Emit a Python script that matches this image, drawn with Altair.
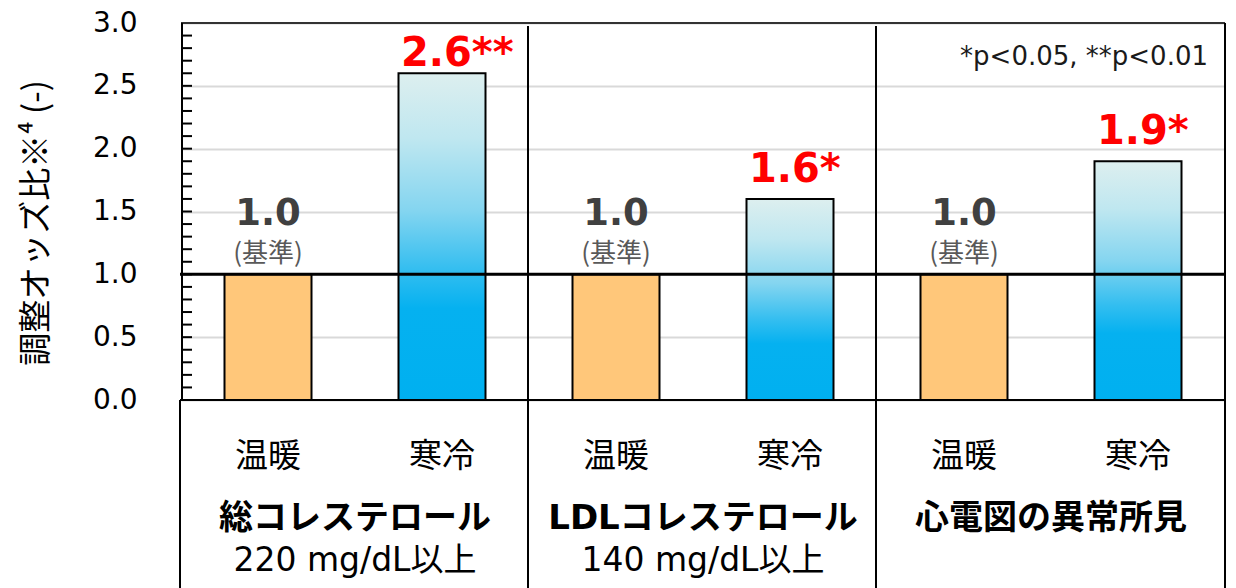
import altair as alt
import pandas as pd

# ---- values ----
groups = ["総コレステロール", "LDLコレステロール", "心電図の異常所見"]
group_notes = ["220 mg/dL以上", "140 mg/dL以上", ""]
conditions = ["温暖", "寒冷"]
odds_ratio = [1.0, 2.6, 1.0, 1.6, 1.0, 1.9]
value_labels = ["1.0", "2.6**", "1.0", "1.6*", "1.0", "1.9*"]
y_ticks = [0.0, 0.5, 1.0, 1.5, 2.0, 2.5, 3.0]
minor_ticks = [round(i * 0.1, 1) for i in range(31)]
reference_note = "(基準)"
significance_note = "*p<0.05, **p<0.01"
y_title = "調整オッズ比※⁴ (-)"

rows = []
for gi, g in enumerate(groups):
    for ci, c in enumerate(conditions):
        k = gi * 2 + ci
        rows.append({"key": f"{g}:{c}", "group": g, "note": group_notes[gi],
                     "cond": c, "odds": odds_ratio[k], "label": value_labels[k]})
bars = pd.DataFrame(rows)
keys = list(bars["key"])
one = pd.DataFrame({"v": [1.0]})
ticks_df = pd.DataFrame({"t": minor_ticks})

# ---- layout ----
W, H = 1044, 565          # whole framed area (plot + category table)
PLOT_H = 377              # plot part: 0.0 .. 3.0
PANEL_W = W / len(groups)

JP = "Noto Sans CJK JP"
LAT = "DejaVu Sans, Noto Sans CJK JP"

yscale = alt.Scale(domain=[0, 3], range=[PLOT_H, 0], nice=False, zero=True)
xscale = alt.Scale(domain=keys, paddingInner=0.5, paddingOuter=0.25)
xenc = alt.X("key:N", scale=xscale, axis=None)

yaxis = alt.Axis(values=y_ticks, format=".1f", title=None, domain=False,
                 ticks=False, tickSize=0, labelPadding=44,
                 labelFont="DejaVu Sans", labelFontSize=28, labelColor="black",
                 grid=True, gridColor="#D9D9D9", gridWidth=2, labelFlush=False)


def yenc(field):
    return alt.Y(field, scale=yscale, axis=yaxis)


base = alt.Chart(bars)
warm = base.transform_filter(alt.datum.cond == "温暖")
cold = base.transform_filter(alt.datum.cond == "寒冷")

warm_bars = warm.mark_bar(fill="#FFC77A", stroke="black", strokeWidth=2).encode(
    x=xenc, y=yenc("odds:Q"))

cold_fill = alt.Gradient(
    gradient="linear", x1=0, x2=0, y1=0, y2=1,
    stops=[alt.GradientStop(color="#DDEFEF", offset=0),
           alt.GradientStop(color="#BFE7F0", offset=0.2),
           alt.GradientStop(color="#84D5F0", offset=0.42),
           alt.GradientStop(color="#34BEF0", offset=0.6),
           alt.GradientStop(color="#05B1F0", offset=0.72),
           alt.GradientStop(color="#00B0F0", offset=1)])
cold_bars = cold.mark_bar(fill=cold_fill, stroke="black", strokeWidth=2).encode(
    x=xenc, y=yenc("odds:Q"))

minor = alt.Chart(ticks_df).mark_rule(color="black", strokeWidth=2).encode(
    y=yenc("t:Q"), x=alt.value(1), x2=alt.value(11))

base_line = alt.Chart(one).mark_rule(color="black", strokeWidth=3).encode(
    y=yenc("v:Q"), x=alt.value(-1), x2=alt.value(W))


def hline(y, x0, x1, w=2, color="black"):
    return alt.Chart(one).mark_rule(color=color, strokeWidth=w).encode(
        y=alt.value(y), x=alt.value(x0), x2=alt.value(x1))


def vline(x, y0, y1, w=2, color="black"):
    return alt.Chart(one).mark_rule(color=color, strokeWidth=w).encode(
        x=alt.value(x), y=alt.value(y0), y2=alt.value(y1))


frame = [
    hline(0, 0, W, 2, "#333333"),
    hline(PLOT_H, -1, W),
    vline(1, 0, PLOT_H),
    vline(-1, PLOT_H, H),
    vline(W, 0, H),
    vline(PANEL_W - 1, 3, H),
    vline(2 * PANEL_W - 1, 3, H),
]

ref_value = warm.mark_text(font="DejaVu Sans", fontWeight="bold", fontSize=37,
                           color="#404040", baseline="alphabetic", dy=-49).encode(
    x=xenc, y=yenc("odds:Q"), text="label:N")
ref_note = warm.mark_text(font=JP, fontSize=26, color="#595959",
                          baseline="middle", dy=-20).encode(
    x=xenc, y=yenc("odds:Q"), text=alt.value(reference_note))

red_low = cold.transform_filter(alt.datum.odds < 2.5).mark_text(
    font="DejaVu Sans", fontWeight="bold", fontSize=40, color="#FF0000",
    align="left", baseline="alphabetic", dx=-41, dy=-17).encode(
    x=xenc, y=yenc("odds:Q"), text="label:N")
red_high = cold.transform_filter(alt.datum.odds >= 2.5).mark_text(
    font="DejaVu Sans", fontWeight="bold", fontSize=40, color="#FF0000",
    align="left", baseline="alphabetic", dx=-41, dy=-7).encode(
    x=xenc, y=yenc("odds:Q"), text="label:N")

cond_text = base.mark_text(font=JP, fontSize=33, color="black",
                           baseline="middle").encode(
    x=xenc, y=alt.value(434), text="cond:N")

# group captions are centred between each panel's two bars
half_gap = PANEL_W / 8
group_text = warm.mark_text(font=LAT, fontWeight="bold", fontSize=34,
                            color="black", baseline="middle",
                            dx=half_gap).encode(
    x=alt.X("key:N", scale=xscale, axis=None, bandPosition=1),
    y=alt.value(496), text="group:N")
note_text = warm.mark_text(font=LAT, fontSize=33, color="black",
                           baseline="middle", dx=half_gap).encode(
    x=alt.X("key:N", scale=xscale, axis=None, bandPosition=1),
    y=alt.value(538), text="note:N")

sig_text = alt.Chart(one).mark_text(font="DejaVu Sans", fontSize=26,
                                    color="#1A1A1A", align="right",
                                    baseline="alphabetic").encode(
    x=alt.value(1027), y=alt.value(42), text=alt.value(significance_note))

title_text = alt.Chart(one).mark_text(font=JP, fontSize=33, color="black",
                                      angle=270, align="center",
                                      baseline="middle").encode(
    x=alt.value(-144), y=alt.value(200), text=alt.value(y_title))

chart = alt.layer(
    warm_bars, cold_bars, minor, base_line, *frame,
    ref_value, ref_note, red_low, red_high, cond_text, group_text,
    note_text, sig_text, title_text,
).properties(
    width=W, height=H,
    autosize=alt.AutoSizeParams(type="none"),
    padding={"left": 181, "top": 23, "right": 11, "bottom": 0},
    background="white",
).configure_view(stroke=None)

chart.save("out.html", embed_options={"renderer": "svg", "actions": False})
